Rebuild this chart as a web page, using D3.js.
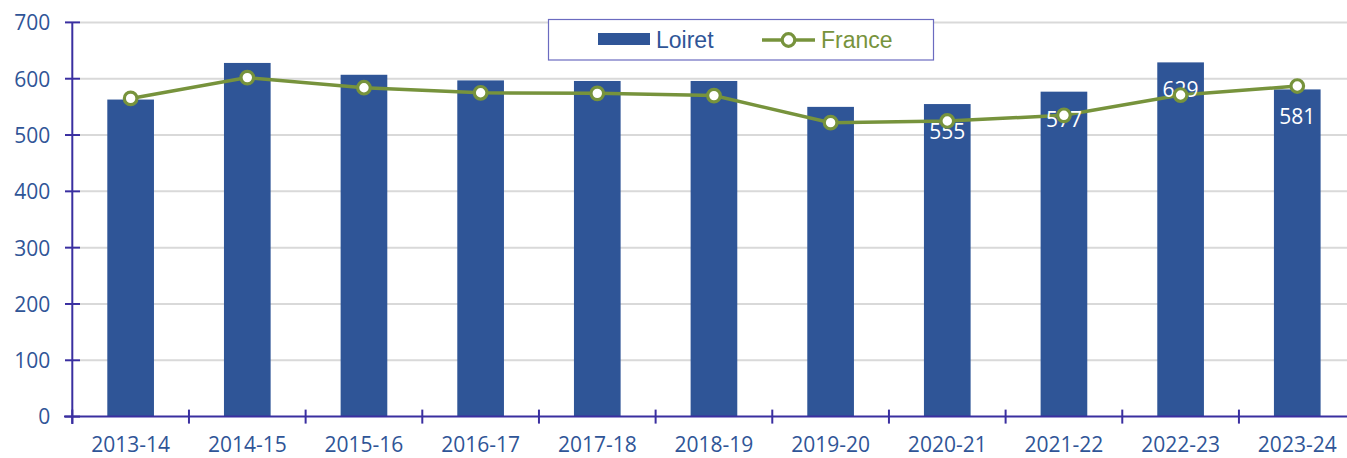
<!DOCTYPE html>
<html><head><meta charset="utf-8">
<script src="https://cdn.jsdelivr.net/npm/d3@7"></script>
<style>body{margin:0;background:#fff}svg{display:block}</style>
</head><body><svg id="c" width="1347" height="458"></svg>
<script>
const categories = ["2013-14","2014-15","2015-16","2016-17","2017-18","2018-19","2019-20","2020-21","2021-22","2022-23","2023-24"];
const loiret = [563,628,607,597,596,596,550,555,577,629,581];
const france = [565,602,584,575,574,570,522,525,535,571,587];
const labelled = [false,false,false,false,false,false,false,true,true,true,true];
const yTicks = [0,100,200,300,400,500,600,700];
const seriesNames = ["Loiret","France"];

const barColor = "#2F5597", lineColor = "#77933C", axisColor = "#3A2FA0", textColor = "#2F5597";
const svg = d3.select("#c");
const x = d3.scaleBand().domain(categories).range([72.3, 1355.6]).paddingInner(0.6).paddingOuter(0.3);
const y = d3.scaleLinear().domain([0,700]).range([416.6, 22.4]);

// gridlines
svg.append("g").selectAll("line").data(yTicks.filter(d=>d>0)).join("line")
  .attr("x1", 80).attr("x2", 1347).attr("y1", d=>y(d)).attr("y2", d=>y(d))
  .attr("stroke", "#d9d9d9").attr("stroke-width", 2);

// bars
svg.append("g").selectAll("rect").data(categories).join("rect")
  .attr("x", d=>x(d)).attr("width", x.bandwidth())
  .attr("y", (d,i)=>y(loiret[i])).attr("height", (d,i)=>y(0)-y(loiret[i]))
  .attr("fill", barColor);

// axes
const yAxis = d3.axisLeft(y).tickValues(yTicks).tickSize(0).tickPadding(0);
const gy = svg.append("g").attr("transform","translate(72.3,0)").call(yAxis);
gy.select(".domain").remove();
gy.selectAll("text").attr("x", -22).attr("dy","0.35em").attr("fill", textColor)
  .style("font-family","'Open Sans', sans-serif").style("font-size","21px");
svg.append("g").selectAll("line").data(yTicks).join("line")
  .attr("x1", 65).attr("x2", 80).attr("y1", d=>y(d)).attr("y2", d=>y(d))
  .attr("stroke", axisColor).attr("stroke-width", 2);
svg.append("line").attr("x1",72.3).attr("x2",72.3).attr("y1",y(700)).attr("y2",424)
  .attr("stroke", axisColor).attr("stroke-width", 2);

const xAxis = d3.axisBottom(x).tickSize(0).tickPadding(0);
const gx = svg.append("g").attr("transform",`translate(0,${y(0)})`).call(xAxis);
gx.select(".domain").remove();
gx.selectAll("text").attr("y", 35.5).attr("dy", 0).attr("fill", textColor)
  .style("font-family","'Open Sans', sans-serif").style("font-size","21px");
svg.append("line").attr("x1",64).attr("x2",1347).attr("y1",y(0)).attr("y2",y(0))
  .attr("stroke", axisColor).attr("stroke-width", 2);
const step = x.step();
svg.append("g").selectAll("line").data(d3.range(categories.length)).join("line")
  .attr("x1", i=>72.3 + i*step).attr("x2", i=>72.3 + i*step)
  .attr("y1", y(0)-7).attr("y2", y(0)+7)
  .attr("stroke", axisColor).attr("stroke-width", 2);

// line
const cx = d => x(d) + x.bandwidth()/2;
svg.append("path").datum(categories)
  .attr("d", d3.line().x(d=>cx(d)).y((d,i)=>y(france[i])))
  .attr("fill","none").attr("stroke", lineColor).attr("stroke-width", 3.5);

// data labels (Loiret)
svg.append("g").selectAll("text").data(categories.filter((d,i)=>labelled[i])).join("text")
  .attr("x", d=>cx(d)).attr("y", d=>y(loiret[categories.indexOf(d)]) + 35)
  .attr("text-anchor","middle").attr("fill","#fff")
  .style("font-family","'Open Sans', sans-serif").style("font-size","21px")
  .text(d=>loiret[categories.indexOf(d)]);

// markers
svg.append("g").selectAll("circle").data(categories).join("circle")
  .attr("cx", d=>cx(d)).attr("cy", (d,i)=>y(france[i])).attr("r", 6.3)
  .attr("fill","#fff").attr("stroke", lineColor).attr("stroke-width", 3.2);

// legend
const lg = svg.append("g");
lg.append("rect").attr("x",548.5).attr("y",19.5).attr("width",385).attr("height",40.5)
  .attr("fill","#fff").attr("stroke","#6B6BC0").attr("stroke-width",1.2);
lg.append("rect").attr("x",598).attr("y",33).attr("width",52).attr("height",12).attr("fill",barColor);
lg.append("text").attr("x",656).attr("y",47.5).text(seriesNames[0]).attr("fill",barColor)
  .style("font-family","'Liberation Sans', Arial, sans-serif").style("font-size","23px");
lg.append("line").attr("x1",762).attr("x2",815).attr("y1",40).attr("y2",40)
  .attr("stroke",lineColor).attr("stroke-width",3.5);
lg.append("circle").attr("cx",788.5).attr("cy",40).attr("r",6.3)
  .attr("fill","#fff").attr("stroke",lineColor).attr("stroke-width",3.2);
lg.append("text").attr("x",821).attr("y",47.5).text(seriesNames[1]).attr("fill",lineColor)
  .style("font-family","'Liberation Sans', Arial, sans-serif").style("font-size","23px");
</script></body></html>
